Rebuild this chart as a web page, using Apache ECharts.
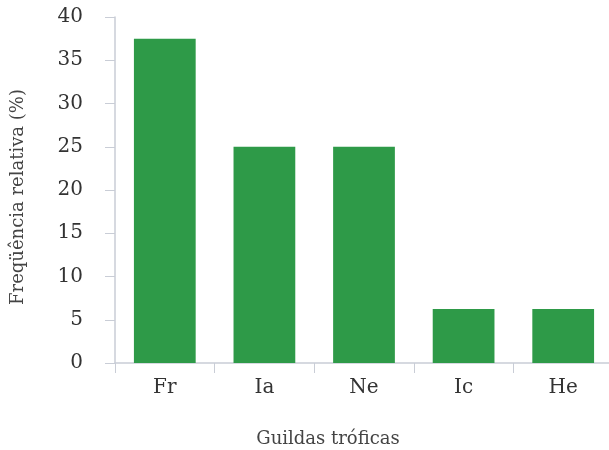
<!DOCTYPE html>
<html><head><meta charset="utf-8">
<script src="https://cdn.jsdelivr.net/npm/echarts@6/dist/echarts.min.js"></script>
<style>html,body{margin:0;padding:0;background:#fff}#c{width:609px;height:450px}</style>
</head><body><div id="c"></div>
<script>
const categories = ["Fr", "Ia", "Ne", "Ic", "He"];
const values = [37.5, 25, 25, 6.25, 6.25];
const yTicks = [0, 5, 10, 15, 20, 25, 30, 35, 40];

const chart = echarts.init(document.getElementById('c'), null, {renderer: 'canvas'});
const font = '"DejaVu Serif", "Liberation Serif", serif';
chart.setOption({
  animation: false,
  grid: {left: 115, right: -4, top: 17, bottom: 87, containLabel: false, outerBoundsMode: 'none'},
  xAxis: {
    type: 'category', data: categories,
    name: 'Guildas tróficas', nameLocation: 'middle', nameGap: 67,
    nameTextStyle: {fontFamily: font, fontSize: 18, color: '#444', padding: [0, 72, 0, 0]},
    axisLine: {lineStyle: {color: '#c9cdd6', width: 1.5}},
    axisTick: {show: true, length: 10, lineStyle: {color: '#c9cdd6'}},
    axisLabel: {fontFamily: font, fontSize: 20, color: '#333', margin: 15}
  },
  yAxis: {
    type: 'value', min: 0, max: 40, interval: 5,
    name: 'Freqüência relativa (%)', nameLocation: 'middle', nameGap: 88,
    nameTextStyle: {fontFamily: font, fontSize: 18, color: '#444', padding: [0, 14, 0, 0]},
    axisLine: {show: true, lineStyle: {color: '#c9cdd6', width: 1.5}},
    axisTick: {show: true, length: 10, lineStyle: {color: '#c9cdd6'}},
    splitLine: {show: false},
    axisLabel: {fontFamily: font, fontSize: 20, color: '#333', margin: 32,
      formatter: v => yTicks.includes(v) ? String(v) : ''}
  },
  series: [{
    type: 'bar', data: values, barWidth: '62%',
    itemStyle: {color: '#2e9a48'}
  }]
});
</script></body></html>
